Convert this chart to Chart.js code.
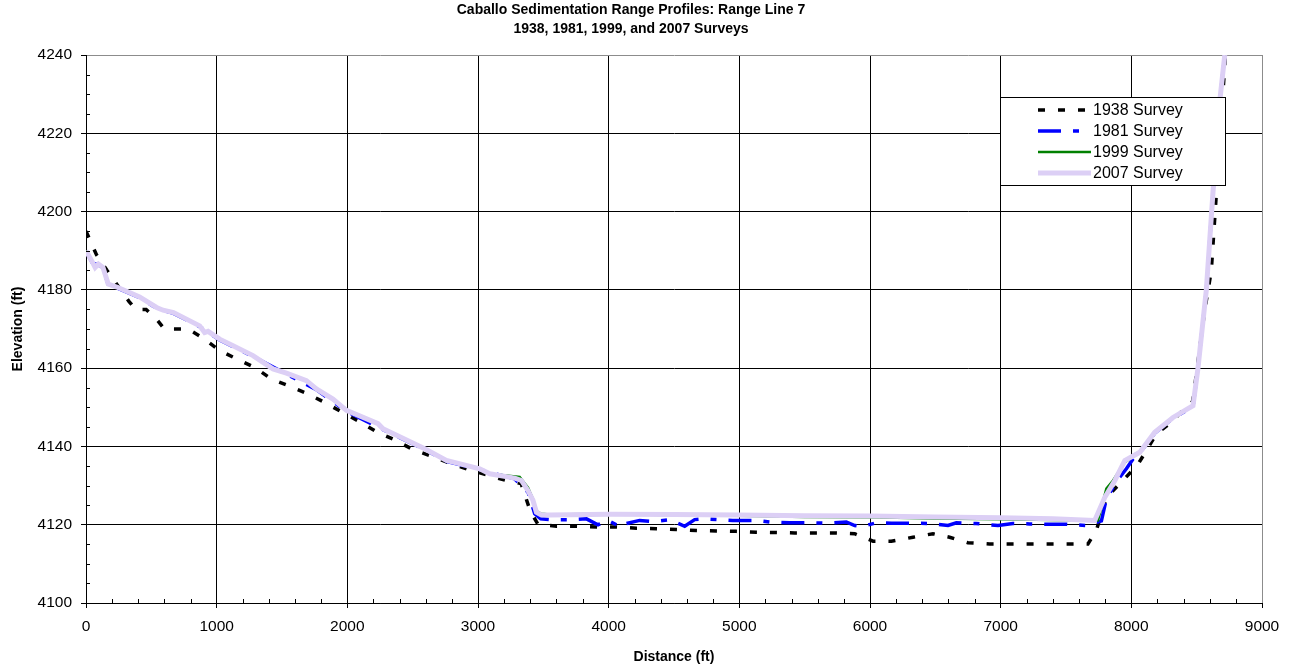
<!DOCTYPE html>
<html>
<head>
<meta charset="utf-8">
<script src="https://cdn.jsdelivr.net/npm/chart.js@4.4.1/dist/chart.umd.min.js"></script>
<style>
  body { margin: 0; background: #fff; }
  #wrap { width: 1298px; height: 670px; }
</style>
</head>
<body>
<div id="wrap"><canvas id="rangeChart"></canvas></div>
<script>
// Range line 7 surveys, distance (ft) and elevation (ft)
const dist1938 = [0, 80, 160, 245, 330, 380, 460, 540, 600, 780, 896, 1023, 1156, 1291, 1419, 1559, 1699, 1835,
    1967, 2100, 2232, 2362, 2502, 2643, 2783, 2936, 3077, 3218, 3330, 3400, 3459, 3600, 3753, 3906, 4059, 4212,
    4365, 4518, 4671, 4824, 4977, 5130, 5270, 5424, 5730, 5883, 6023, 6163, 6329, 6482, 6609, 6749, 6915, 7668,
    7732, 7810, 8045, 8192, 8306, 8421, 8470, 8561, 8612, 8720];
const elev1938 = [4195, 4189, 4185, 4181, 4177, 4175, 4175, 4172.5, 4170, 4170, 4167.7, 4164.5, 4162.3, 4160.2,
    4157.2, 4155.4, 4153.4, 4151.1, 4148.6, 4146.2, 4143.6, 4141.7, 4139.2, 4137.5, 4135.7, 4134, 4132.6, 4131.3,
    4130.5, 4123.5, 4120.1, 4119.6, 4119.6, 4119.4, 4119.4, 4119.1, 4119, 4118.8, 4118.5, 4118.4, 4118.3, 4118.1,
    4118, 4117.9, 4117.9, 4117.7, 4115.8, 4115.8, 4116.8, 4117.7, 4116.8, 4115.4, 4115.1, 4115.1, 4118.5, 4127,
    4135.1, 4143.2, 4146.2, 4150.2, 4151.5, 4174.6, 4184.9, 4240];

const dist1981 = [0, 50, 95, 130, 170, 245, 410, 540, 670, 870, 1023, 1278, 1534, 1763, 1993, 2273, 2592, 2758,
    3013, 3281, 3383, 3434, 3480, 3550, 3700, 3830, 3918, 3995, 4059, 4110, 4136, 4237, 4339, 4467, 4582, 4658,
    4735, 4950, 5130, 5232, 5385, 5540, 5666, 5819, 5883, 5935, 6048, 6163, 6329, 6456, 6597, 6661, 6812, 6980,
    7094, 7222, 7375, 7503, 7655, 7771, 7809, 7885, 7962, 8013, 8065, 8179, 8319, 8472, 8510, 8574, 8625, 8676, 8715];
const elev1981 = [4189.8, 4186.8, 4186.4, 4185.5, 4181.3, 4180.4, 4178, 4175.3, 4174, 4170.6, 4167.2, 4163,
    4158.5, 4154.5, 4149, 4144.3, 4139.2, 4136.2, 4134.1, 4131.7, 4128.3, 4122.8, 4121.5, 4121.3, 4121.3, 4121.5,
    4120, 4121.1, 4120, 4119.4, 4120.3, 4121.1, 4120.8, 4121.3, 4119.6, 4121.3, 4121.5, 4121.1, 4121.1, 4120.7,
    4120.5, 4120.5, 4120.4, 4120.7, 4119.8, 4119.5, 4120.5, 4120.4, 4120.4, 4120.3, 4119.8, 4120.5, 4120.3, 4119.8,
    4120.3, 4120.2, 4120.1, 4120.1, 4119.8, 4121, 4126.6, 4131, 4134.3, 4136.8, 4138.3, 4143.4, 4147.2, 4150.2,
    4160, 4180, 4205, 4228, 4240];

const dist1999 = [0, 50, 70, 95, 130, 170, 245, 410, 540, 590, 670, 870, 908, 934, 1023, 1125, 1278, 1431, 1534,
    1687, 1763, 1890, 1993, 2235, 2273, 2401, 2592, 2758, 3013, 3090, 3319, 3383, 3421, 3447, 3485, 3549, 4000,
    4500, 5000, 5500, 6000, 6500, 7000, 7400, 7745, 7809, 7860, 7950, 8065, 8179, 8319, 8472, 8510, 8574, 8625,
    8676, 8715];
const elev1999 = [4190, 4187, 4185.7, 4186.6, 4185.7, 4181.5, 4180.6, 4178.2, 4175.5, 4174.8, 4174.2, 4170.8,
    4169.1, 4169.4, 4167.4, 4165.7, 4163.2, 4159.8, 4158.7, 4156.8, 4154.7, 4152.1, 4149.2, 4145.8, 4144.5, 4142.5,
    4139.4, 4136.4, 4134.3, 4133, 4132.2, 4129.5, 4126.5, 4123.5, 4122.8, 4122.6, 4122.8, 4122.4, 4122.3, 4122,
    4121.9, 4121.6, 4121.4, 4121.2, 4121.1, 4129.2, 4131.3, 4136, 4138.5, 4143.6, 4147.4, 4150.4, 4160, 4180,
    4205, 4228, 4240];

const dist2007 = [0, 50, 70, 95, 130, 170, 245, 410, 540, 590, 670, 870, 908, 934, 1023, 1125, 1278, 1431, 1534,
    1687, 1763, 1890, 1993, 2235, 2273, 2401, 2592, 2758, 3013, 3090, 3281, 3332, 3383, 3421, 3447, 3485, 3549,
    4000, 4500, 5000, 5500, 6000, 6500, 7000, 7400, 7720, 7797, 7874, 7950, 8065, 8179, 8319, 8472, 8510, 8574,
    8625, 8676, 8715];
const elev2007 = [4190, 4187, 4185.7, 4186.6, 4185.7, 4181.5, 4180.6, 4178.2, 4175.5, 4174.8, 4174.2, 4170.8,
    4169.1, 4169.4, 4167.4, 4165.7, 4163.2, 4159.8, 4158.7, 4156.8, 4154.7, 4152.1, 4149.2, 4145.8, 4144.5, 4142.5,
    4139.4, 4136.4, 4134.3, 4133, 4131.9, 4131.3, 4128.7, 4126.2, 4123.2, 4122.5, 4122.5, 4122.7, 4122.6, 4122.5,
    4122.3, 4122.2, 4122, 4121.8, 4121.5, 4121.1, 4127, 4131.3, 4136.4, 4138.5, 4143.6, 4147.4, 4150.4, 4160,
    4180, 4205, 4228, 4240];

const distanceTicks = [0, 1000, 2000, 3000, 4000, 5000, 6000, 7000, 8000, 9000];
const elevationTicks = [4100, 4120, 4140, 4160, 4180, 4200, 4220, 4240];

const FONT = "'Liberation Sans', Arial, sans-serif";

function toPoints(xs, ys) {
    return xs.map((x, i) => ({ x: x, y: ys[i] }));
}

// minor tick marks pointing into the plot (5 ft / 200 ft)
const minorTicks = {
    id: 'minorTicks',
    afterDraw(chart) {
        const { ctx, chartArea, scales } = chart;
        ctx.save();
        ctx.strokeStyle = '#000';
        ctx.lineWidth = 1;
        ctx.beginPath();
        for (let v = scales.y.min; v <= scales.y.max; v += 5) {
            if (v % 20 === 0) continue;
            const py = Math.round(scales.y.getPixelForValue(v)) + 0.5;
            ctx.moveTo(chartArea.left, py);
            ctx.lineTo(chartArea.left + 4, py);
        }
        for (let v = scales.x.min; v <= scales.x.max; v += 200) {
            if (v % 1000 === 0) continue;
            const px = Math.round(scales.x.getPixelForValue(v)) + 0.5;
            ctx.moveTo(px, chartArea.bottom);
            ctx.lineTo(px, chartArea.bottom - 4);
        }
        ctx.stroke();
        ctx.restore();
    }
};

// boxed legend sitting inside the plot, upper right
const boxLegend = {
    id: 'boxLegend',
    afterDraw(chart) {
        const { ctx, chartArea } = chart;
        const left = chartArea.left + 914;
        const top = chartArea.top + 42;
        ctx.save();
        ctx.fillStyle = '#fff';
        ctx.fillRect(left, top, 225, 88);
        ctx.strokeStyle = '#000';
        ctx.lineWidth = 1;
        ctx.strokeRect(left + 0.5, top + 0.5, 225, 88);
        chart.data.datasets.forEach((ds, i) => {
            const y = top + 13 + i * 21;
            ctx.beginPath();
            ctx.setLineDash(ds.borderDash || []);
            ctx.lineWidth = ds.borderWidth;
            ctx.strokeStyle = ds.borderColor;
            ctx.moveTo(left + 38, y);
            ctx.lineTo(left + 91, y);
            ctx.stroke();
            ctx.setLineDash([]);
            ctx.fillStyle = '#000';
            ctx.font = '16px ' + FONT;
            ctx.textBaseline = 'middle';
            ctx.fillText(ds.label, left + 93, y + 1);
        });
        ctx.restore();
    }
};

const ctx = document.getElementById('rangeChart').getContext('2d');
const rangeChart = new Chart(ctx, {
    type: 'line',
    data: {
        datasets: [{
            label: '1938 Survey',
            data: toPoints(dist1938, elev1938),
            borderColor: '#000000',
            borderWidth: 3.5,
            borderDash: [7, 13],
            order: 4
        }, {
            label: '1981 Survey',
            data: toPoints(dist1981, elev1981),
            borderColor: '#0000ff',
            borderWidth: 3.5,
            borderDash: [23, 12, 6, 12],
            order: 3
        }, {
            label: '1999 Survey',
            data: toPoints(dist1999, elev1999),
            borderColor: '#008000',
            borderWidth: 2.5,
            order: 2
        }, {
            label: '2007 Survey',
            data: toPoints(dist2007, elev2007),
            borderColor: '#dccff5',
            borderWidth: 5,
            order: 1
        }]
    },
    options: {
        responsive: true,
        maintainAspectRatio: false,
        animation: false,
        elements: {
            point: { radius: 0, hoverRadius: 0 },
            line: { tension: 0, fill: false }
        },
        layout: { padding: { left: 0, right: 36, top: 0, bottom: 0 } },
        plugins: {
            legend: { display: false },
            tooltip: { enabled: false },
            title: {
                display: true,
                text: ['Caballo Sedimentation Range Profiles: Range Line 7', '1938, 1981, 1999, and 2007 Surveys'],
                color: '#000',
                font: { family: FONT, size: 14, weight: 'bold', lineHeight: 1.35 },
                padding: { top: 1, bottom: 16.2 }
            }
        },
        scales: {
            x: {
                type: 'linear',
                min: 0,
                max: 9000,
                afterBuildTicks: scale => { scale.ticks = distanceTicks.map(v => ({ value: v })); },
                afterFit: scale => { scale.height = 67; },
                ticks: {
                    color: '#000',
                    font: { family: FONT, size: 15.5 },
                    padding: 9,
                    maxRotation: 0,
                    callback: value => String(value)
                },
                grid: {
                    color: c => (c.tick && c.tick.value === 9000 ? '#8c8c8c' : '#000'),
                    lineWidth: 1,
                    tickLength: 5,
                    tickColor: '#000'
                },
                border: { color: '#000', width: 1 },
                title: {
                    display: true,
                    text: 'Distance (ft)',
                    color: '#000',
                    font: { family: FONT, size: 14, weight: 'bold' },
                    padding: { top: 0, bottom: 4.6 }
                }
            },
            y: {
                type: 'linear',
                min: 4100,
                max: 4240,
                afterBuildTicks: scale => { scale.ticks = elevationTicks.map(v => ({ value: v })); },
                afterFit: scale => { scale.width = 86; },
                ticks: {
                    color: '#000',
                    font: { family: FONT, size: 15.5 },
                    padding: 9,
                    callback: value => String(value)
                },
                grid: {
                    color: c => (c.tick && c.tick.value === 4240 ? '#8c8c8c' : '#000'),
                    lineWidth: 1,
                    tickLength: 5,
                    tickColor: '#000'
                },
                border: { color: '#000', width: 1 },
                title: {
                    display: true,
                    text: 'Elevation (ft)',
                    color: '#000',
                    font: { family: FONT, size: 14, weight: 'bold' },
                    padding: { top: 10, bottom: 0 }
                }
            }
        }
    },
    plugins: [minorTicks, boxLegend]
});
</script>
</body>
</html>
